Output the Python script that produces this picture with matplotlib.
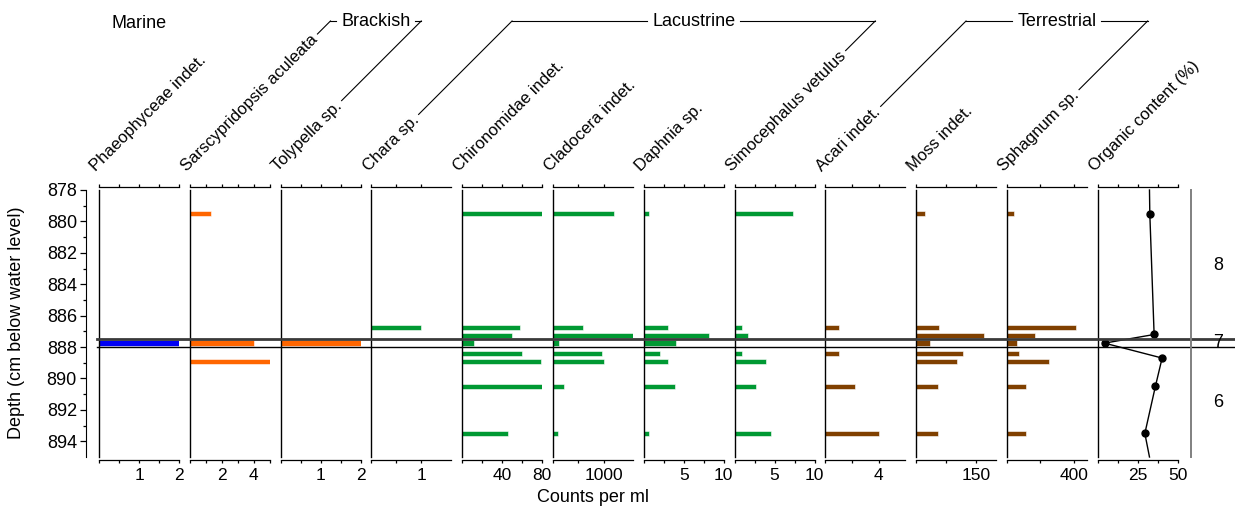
import matplotlib
matplotlib.use("Agg")
import matplotlib.pyplot as plt
import matplotlib.transforms as mtransforms
from matplotlib.lines import Line2D

plt.rcParams["font.family"] = ["Liberation Sans", "DejaVu Sans"]

W, H = 1235, 507

# -----------------------
# Data
# -----------------------
depths = [879.5, 886.75, 887.25, 887.75, 888.4, 888.9, 890.5, 893.5]

taxa = ["Phaeophyceae indet.", "Sarscypridopsis aculeata", "Tolypella sp.",
        "Chara sp.", "Chironomidae indet.", "Cladocera indet.", "Daphnia sp.",
        "Simocephalus vetulus", "Acari indet.", "Moss indet.", "Sphagnum sp."]

phaeophyceae = [0, 0, 0, 2.0, 0, 0, 0, 0]
sarscypridopsis = [1.3, 0, 0, 4.0, 0, 5.0, 0, 0]
tolypella = [0, 0, 0, 2.0, 0, 0, 0, 0]
chara = [0, 1.0, 0, 0, 0, 0, 0, 0]
chironomidae = [80, 58, 50, 12, 60, 79, 80, 46]
cladocera = [1190, 590, 1570, 125, 955, 1005, 220, 105]
daphnia = [0.6, 3.0, 8.2, 4.0, 2.0, 3.0, 3.9, 0.6]
simocephalus = [7.3, 0.95, 1.65, 0, 0.95, 3.9, 2.7, 4.6]
acari = [0, 1.0, 0, 0, 1.0, 0, 2.2, 4.0]
moss = [21, 58, 169, 35, 118, 102, 55, 55]
sphagnum = [42, 412, 170, 58, 72, 254, 114, 114]

counts = [phaeophyceae, sarscypridopsis, tolypella, chara, chironomidae,
          cladocera, daphnia, simocephalus, acari, moss, sphagnum]

# organic content line (first and last points run to the plot edges)
org_depth = [878.0, 879.5, 887.2, 887.75, 888.7, 890.5, 893.5, 895.0]
org_value = [32.3, 32.5, 35.2, 4.2, 40.2, 36.0, 29.4, 32.3]

# x ranges and ticks per panel (11 taxa + organic)
xmax = [2, 5, 2, 1.6, 80, 1570, 10, 10, 6, 200, 480, 50]
xticks = [[0, 0.5, 1, 1.5, 2], [0, 1, 2, 3, 4, 5], [0, 0.5, 1, 1.5, 2],
          [0, 0.5, 1], [0, 20, 40, 60, 80], [0, 500, 1000],
          [0, 2.5, 5, 7.5, 10], [0, 2.5, 5, 7.5, 10], [0, 2, 4],
          [0, 75, 150], [0, 200, 400], [0, 12.5, 25, 37.5, 50]]
xlabels = [[1, 2], [2, 4], [1, 2], [1], [40, 80], [1000], [5, 10], [5, 10],
           [4], [150], [400], [25, 50]]

groups = ["Marine", "Brackish", "Lacustrine", "Terrestrial"]
group_members = [[0], [1, 2], [3, 7], [8, 10]]

boundaries = [887.5, 888.0]
zones = ["8", "7", "6"]
zone_depth = [882.8, 887.7, 891.5]

BLUE = "#0000f5"
ORANGE = "#ff6600"
GREEN = "#009933"
BROWN = "#804000"
colors = [BLUE, ORANGE, ORANGE, GREEN, GREEN, GREEN, GREEN, GREEN,
          BROWN, BROWN, BROWN]

# -----------------------
# Layout (pixels)
# -----------------------
LEFT0, STEP, PW = 99, 90.8, 80
TOP, BOT = 190, 457
YLIM = (895, 878)

fig = plt.figure(figsize=(W / 100, H / 100), dpi=100)


def panel_rect(x0, w):
    return [x0 / W, (H - BOT) / H, w / W, (BOT - TOP) / H]


axes = []
for i in range(12):
    x0 = LEFT0 + i * STEP
    ax = fig.add_axes(panel_rect(x0, PW))
    ax.set_ylim(*YLIM)
    ax.set_xlim(0, xmax[i])
    ax.spines["right"].set_visible(False)
    for s in ["top", "bottom"]:
        ax.spines[s].set_position(("outward", 2))
        ax.spines[s].set_linewidth(0.9)
    ax.spines["left"].set_linewidth(1.0)
    ax.set_yticks([])
    ax.set_xticks(xticks[i])
    ax.set_xticklabels([f"{t:g}" if t in xlabels[i] else "" for t in xticks[i]])
    ax.tick_params(axis="x", direction="out", length=2.5, width=0.9,
                   top=True, bottom=True, labeltop=False, labelsize=12.5, pad=3.5)
    ax.patch.set_alpha(0)
    axes.append(ax)

    if i < 11:
        d = [y for y, v in zip(depths, counts[i]) if v > 0]
        v = [v for v in counts[i] if v > 0]
        ax.barh(d, v, height=0.34, color=colors[i], edgecolor="white",
                linewidth=0.4, zorder=2)
    else:
        ax.plot(org_value, org_depth, color="black", lw=1,
                marker="o", ms=5, markevery=list(range(1, 7)), clip_on=False)

# depth axis
axd = fig.add_axes(panel_rect(86, 1))
axd.set_ylim(*YLIM)
for s in ["top", "bottom", "right"]:
    axd.spines[s].set_visible(False)
axd.set_xticks([])
axd.set_yticks(range(878, 895, 2))
axd.set_yticks(range(879, 895, 2), minor=True)
axd.tick_params(axis="y", which="major", length=4.5, width=0.9, labelsize=13, pad=2)
axd.tick_params(axis="y", which="minor", length=2.3, width=0.9)
axd.patch.set_alpha(0)

fig.text(17 / W, 1 - 323 / H, "Depth (cm below water level)", rotation=90,
         ha="center", va="center", fontsize=13)
fig.text(593 / W, 1 - 498 / H, "Counts per ml", ha="center", va="center",
         fontsize=13)

# boundary lines and zones
trans = mtransforms.blended_transform_factory(fig.transFigure, axd.transData)
fig.add_artist(Line2D([97 / W, 1], [boundaries[0]] * 2, transform=trans,
                      color="#3a3a3a", lw=2))
fig.add_artist(Line2D([97 / W, 1], [boundaries[1]] * 2, transform=trans,
                      color="black", lw=1))
fig.add_artist(Line2D([1191 / W] * 2, [878, 895], transform=trans,
                      color="#808080", lw=1.4))
for z, zd in zip(zones, zone_depth):
    fig.text(1218 / W, zd, z, transform=trans, ha="center", va="center",
             fontsize=13)

# species labels
labels = taxa + ["Organic content (%)"]
label_texts = []
for i, name in enumerate(labels):
    x0 = LEFT0 + i * STEP - 3
    t = fig.text(x0 / W, (H - 172) / H, name, rotation=45,
                 rotation_mode="anchor", ha="left", va="baseline", fontsize=12)
    label_texts.append(t)

# group headers with connector lines
fig.canvas.draw()
r = fig.canvas.get_renderer()
HY = H - 21  # header y, pixels from bottom


def fline(xs, ys):
    fig.add_artist(Line2D([x / W for x in xs], [y / H for y in ys],
                          transform=fig.transFigure, color="black", lw=0.8))


for name, mem in zip(groups, group_members):
    if len(mem) == 1:
        fig.text(139 / W, 1 - 23 / H, name, ha="center", va="center",
                 fontsize=13)
        continue
    corners = []
    for k in mem:
        bb = label_texts[k].get_window_extent(r)
        sx, sy = bb.x1 - 3, bb.y1 - 2
        cx = sx + (HY - sy)
        corners.append(cx)
        fline([sx, cx], [sy, HY])
    xc = (corners[0] + corners[1]) / 2
    t = fig.text(xc / W, HY / H, name, ha="center", va="center", fontsize=13)
    tw = t.get_window_extent(r).width
    if xc - tw / 2 - 5 > corners[0]:
        fline([corners[0], xc - tw / 2 - 5], [HY, HY])
    if xc + tw / 2 + 5 < corners[1]:
        fline([xc + tw / 2 + 5, corners[1]], [HY, HY])

fig.savefig("out.png", dpi=100)
